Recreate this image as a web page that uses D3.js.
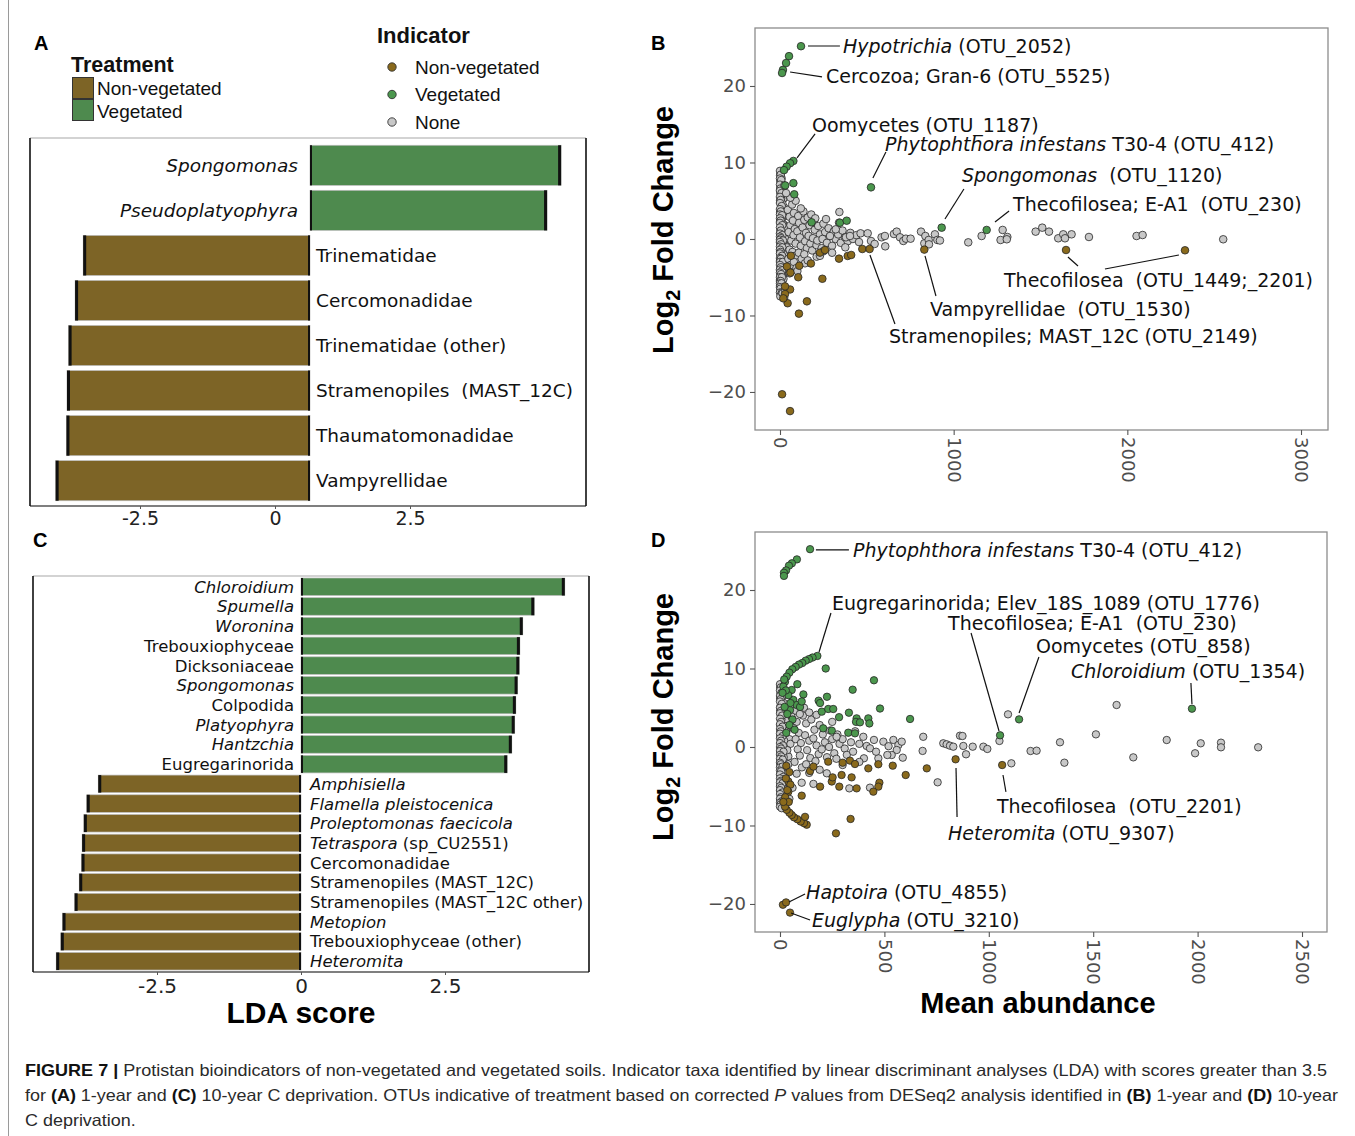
<!DOCTYPE html>
<html><head><meta charset="utf-8">
<script src="https://cdn.jsdelivr.net/npm/d3@7"></script>
<style>
body{margin:0;background:#fff;}
svg{display:block;}
text{white-space:pre;}
</style></head><body>
<svg id="fig" width="1355" height="1136"></svg>
<script>
// ---------------- DATA ----------------
const treatmentLegend = ["Non-vegetated", "Vegetated"];
const indicatorLegend = ["Non-vegetated", "Vegetated", "None"];
const ldaTicks = [-2.5, 0, 2.5];

// Panel A (1-year LDA)
const aTaxa = ["Spongomonas","Pseudoplatyophyra","Trinematidae","Cercomonadidae","Trinematidae (other)","Stramenopiles  (MAST_12C)","Thaumatomonadidae","Vampyrellidae"];
const aScores = [4.65, 4.39, -4.20, -4.35, -4.47, -4.50, -4.51, -4.71];
const aItalic = ["Spongomonas","Pseudoplatyophyra","","","","","",""];

// Panel C (10-year LDA)
const cTaxa = ["Chloroidium","Spumella","Woronina","Trebouxiophyceae","Dicksoniaceae","Spongomonas","Colpodida","Platyophyra","Hantzchia","Eugregarinorida","Amphisiella","Flamella pleistocenica","Proleptomonas faecicola","Tetraspora (sp_CU2551)","Cercomonadidae","Stramenopiles (MAST_12C)","Stramenopiles (MAST_12C other)","Metopion","Trebouxiophyceae (other)","Heteromita"];
const cScores = [4.58, 4.05, 3.85, 3.80, 3.79, 3.76, 3.73, 3.71, 3.66, 3.58, -3.52, -3.72, -3.77, -3.80, -3.81, -3.85, -3.93, -4.14, -4.17, -4.25];
const cItalic = ["Chloroidium","Spumella","Woronina","","","Spongomonas","","Platyophyra","Hantzchia","","Amphisiella","Flamella pleistocenica","Proleptomonas faecicola","Tetraspora","","","","Metopion","","Heteromita"];

// Panel B (1-year DESeq2): [mean abundance, log2 fold change]
const bTicksX = [0, 1000, 2000, 3000];
const bTicksY = [-20, -10, 0, 10, 20];
const bGreen = [[121,25.2],[52,23.9],[35,23.0],[17,22.1],[12,21.7],[77,10.2],[58,9.9],[38,9.45],[23,9.0],[77,7.3],[82,5.84],[30,7.0],[524,6.75],[931,1.48],[1190,1.18],[182,2.18],[345,2.13],[384,2.39]];
const bBrown = [[63,-2.2],[111,-3.5],[178,-3.2],[105,-5.0],[244,-5.2],[58,-6.6],[29,-7.2],[44,-8.4],[155,-8.15],[109,-9.76],[230,-1.79],[259,-1.44],[340,-2.57],[390,-2.22],[410,-2.09],[474,-1.31],[516,-1.31],[831,-1.39],[1647,-1.44],[2332,-1.48],[12,-20.3],[58,-22.5],[19,-7.76],[29,-6.2],[40,-3.6],[60,-4.4]];
const bGrey = [
 [3,8.6],[6,8.1],[2,7.6],[10,7.2],[4,6.8],[14,6.4],[2,6.0],[8,5.6],[18,5.2],[3,4.8],[12,4.4],[24,4.1],[5,3.7],[16,3.3],[28,3.0],[2,2.6],[9,2.2],[20,1.9],[35,1.6],[4,1.2],[13,0.9],[26,0.6],[40,0.3],[3,0.0],[11,-0.3],[22,-0.6],[33,-0.9],[5,-1.2],[15,-1.5],[27,-1.8],[2,-2.1],[9,-2.4],[19,-2.7],[4,-3.0],[14,-3.3],[25,-3.6],[3,-3.9],[10,-4.2],[18,-4.5],[2,-4.8],[8,-5.1],[15,-5.4],[4,-5.7],[11,-6.0],[6,-6.3],[14,-6.6],[9,-6.9],[18,-7.3],[24,-7.7],
 [1,8.3],[9,7.9],[5,7.4],[1,6.5],[11,6.2],[6,5.3],[1,5.0],[14,4.6],[7,4.0],[1,3.5],[21,3.4],[11,2.8],[1,2.3],[16,2.0],[7,1.5],[30,1.3],[1,0.8],[19,0.4],[8,0.2],[30,0.0],[1,-0.5],[16,-0.8],[7,-1.0],[40,-1.1],[1,-1.6],[21,-2.0],[12,-2.3],[1,-2.8],[30,-3.1],[7,-3.5],[1,-4.1],[22,-4.0],[12,-4.7],[1,-5.3],[20,-5.2],[7,-5.9],[1,-6.1],[12,-6.4],[3,-6.8],
 [0,8.9],[4,8.4],[0,7.9],[7,7.7],[0,7.1],[3,6.6],[0,6.3],[9,6.0],[0,5.5],[4,5.1],[0,4.7],[10,4.3],[0,3.9],[5,3.6],[0,3.2],[12,3.1],[0,2.7],[4,2.4],[0,2.1],[13,1.8],[0,1.5],[5,1.1],[0,0.7],[14,0.5],[0,0.3],[5,0.1],[0,-0.1],[17,-0.2],[0,-0.4],[6,-0.7],[0,-1.0],[13,-1.1],[0,-1.4],[4,-1.7],[0,-1.9],[12,-2.2],[0,-2.5],[5,-2.6],[0,-3.0],[16,-3.0],[0,-3.4],[5,-3.7],[0,-4.0],[13,-4.1],[0,-4.4],[6,-4.6],[0,-5.0],[11,-5.0],[0,-5.5],[4,-5.5],[0,-5.8],[9,-5.8],[0,-6.3],[3,-6.5],[0,-7.0],[8,-7.2],[2,-7.5],[12,-7.0],
 [45,3.8],[55,2.9],[60,1.8],[50,0.9],[65,-0.2],[55,-1.4],[48,-2.6],[62,-3.4],[52,-4.3],[70,4.5],[80,3.4],[75,2.4],[85,1.3],[78,0.5],[90,-0.6],[72,-1.7],[88,-2.2],[80,-3.0],[95,-3.8],[105,3.0],[110,2.1],[100,1.0],[115,0.2],[120,-0.9],[108,-1.8],[125,-2.6],[135,3.6],[140,2.5],[130,1.5],[150,0.8],[145,-0.3],[155,-1.2],[140,-2.0],[160,2.8],[170,1.8],[165,0.4],[175,-0.6],[185,-1.5],[180,3.2],[195,2.4],[200,1.2],[190,0.1],[210,-0.8],[220,1.7],[230,0.6],[215,-0.2],[240,-1.2],[250,2.0],[260,0.9],[245,0.0],[270,-0.5],[280,1.4],[290,0.4],[300,-0.9],[310,1.0],[320,0.0],[335,0.6],[350,-0.5],[360,1.1],[375,0.2],[390,-0.3],[405,0.8],[420,0.0],[440,0.5],[455,-0.4],
 [342,3.53],[203,2.7],[340,2.13],[464,0.74],[505,0.74],[524,-0.26],[545,-0.65],[585,0.22],[604,0.39],[606,-0.96],[656,0.65],[672,0.96],[691,0.22],[710,-0.26],[725,0.04],[752,0.04],[812,0.96],[837,0.39],[831,-0.57],[856,-0.13],[858,-0.7],[892,0.61],[906,-0.13],[380,0.22],[403,0.39],[376,-1.09],[321,1.26],[288,0.39],[211,-2.31],[144,-3.18],[56,-4.49],[15,-7.1],[30,-6.7],[100,-4.2],[160,-2.8],[250,-1.6],[230,-2.2],[300,-1.8],[265,2.6],[120,4.0],[90,5.0],[60,5.4],[35,6.0],[25,7.0],
 [921,-0.2],[1084,-0.44],[1161,0.39],[1282,1.18],[1270,-0.13],[1309,0.26],[1306,-0.04],[1472,0.96],[1510,1.48],[1549,0.96],[1602,0.09],[1631,0.61],[1641,0.09],[1679,0.61],[1779,0.26],[2053,0.39],[2088,0.52],[2552,-0.04]
];

// Panel D (10-year DESeq2)
const dTicksX = [0, 500, 1000, 1500, 2000, 2500];
const dTicksY = [-20, -10, 0, 10, 20];
const dGreen = [[144,25.2],[81,23.9],[57,23.4],[43,23.1],[29,22.5],[19,22.2],[19,21.8],
 [179,11.6],[156,11.4],[139,11.2],[123,11.0],[107,10.7],[91,10.5],[75,10.2],[59,9.9],[45,9.47],[32,8.96],[24,8.3],[16,7.7],
 [219,10.0],[450,8.5],[348,7.3],[83,8.0],[112,6.7],[225,6.4],[185,5.9],[192,5.6],[200,4.5],[231,4.84],[255,4.84],[330,4.37],[283,3.8],[367,3.65],[364,3.2],[383,3.14],[423,3.65],[428,3.0],[479,4.9],[623,3.57],[327,1.82],[359,1.74],[248,2.08],[207,2.38],[56,7.26],[64,6.0],[80,5.35],[96,5.1],[104,5.8],[48,4.7],
 [40,6.6],[50,5.6],[35,4.2],[60,3.5],[45,2.8],[70,2.2],[30,1.8],[20,8.6],[28,7.2],[12,6.9],[22,5.1],
 [1054,1.49],[1145,3.52],[1973,4.88]];
const dBrown = [[128,-9.9],[115,-9.7],[99,-9.5],[83,-9.2],[67,-8.96],[56,-8.66],[45,-8.37],[32,-8.0],[24,-7.6],[120,-8.9],
 [268,-11.0],[338,-9.17],[104,-6.2],[40,-5.7],[40,-4.4],[144,-3.06],[160,-2.5],[192,-5.05],[248,-4.4],[252,-3.87],[284,-5.05],[231,-1.87],[300,-2.0],[335,-1.74],[359,-2.17],[295,-3.57],[343,-3.87],[367,-5.27],[423,-2.72],[471,-2.2],[476,-4.55],[471,-5.05],[447,-5.69],[540,-2.38],[602,-3.57],[703,-2.72],[841,-1.57],[1064,-2.3],
 [30,-2.4],[45,-3.2],[28,-4.0],[50,-4.8],[35,-5.5],[25,-6.4],[42,-7.0],[16,-7.0],
 [14,-20.1],[29,-19.8],[48,-21.1]];
const dGrey = [
 [2,7.8],[6,7.3],[2,6.8],[12,6.4],[4,6.0],[18,5.6],[2,5.2],[9,4.8],[24,4.5],[3,4.1],[14,3.7],[30,3.4],[5,3.0],[20,2.7],[38,2.4],[2,2.0],[10,1.6],[26,1.3],[45,1.0],[4,0.6],[15,0.3],[32,0.0],[3,-0.3],[12,-0.6],[24,-0.9],[40,-1.2],[5,-1.5],[16,-1.8],[30,-2.1],[2,-2.4],[10,-2.7],[22,-3.0],[4,-3.3],[14,-3.6],[28,-3.9],[3,-4.2],[10,-4.5],[20,-4.8],[2,-5.1],[8,-5.4],[16,-5.7],[4,-6.0],[11,-6.3],[6,-6.6],[14,-6.9],[9,-7.2],[20,-7.5],
 [1,7.5],[9,7.0],[1,6.2],[7,5.4],[1,4.6],[16,4.2],[7,3.5],[1,2.8],[14,2.3],[30,2.0],[1,1.4],[20,0.8],[8,0.1],[50,0.4],[1,-0.8],[35,-0.4],[18,-1.3],[1,-1.9],[40,-2.2],[8,-2.9],[1,-3.5],[22,-3.4],[8,-4.0],[1,-4.8],[14,-5.0],[1,-5.6],[24,-5.4],[6,-6.2],[1,-6.8],[16,-6.5],[4,-7.6],
 [0,8.0],[4,7.6],[0,7.2],[7,6.9],[0,6.5],[3,6.1],[0,5.8],[9,5.5],[0,5.0],[4,4.6],[0,4.3],[10,4.0],[0,3.6],[5,3.2],[0,2.9],[12,2.6],[0,2.3],[4,2.0],[0,1.7],[13,1.4],[0,1.1],[5,0.8],[0,0.5],[14,0.2],[0,0.0],[5,-0.2],[0,-0.5],[17,-0.6],[0,-1.0],[6,-1.2],[0,-1.5],[13,-1.6],[0,-2.0],[4,-2.2],[0,-2.6],[12,-2.5],[0,-3.0],[5,-3.1],[0,-3.5],[16,-3.8],[0,-4.0],[5,-4.3],[0,-4.5],[13,-4.6],[0,-5.0],[6,-5.2],[0,-5.5],[11,-5.8],[0,-6.0],[4,-6.4],[0,-6.6],[9,-6.9],[0,-7.1],[3,-7.3],[0,-7.6],[8,-7.8],
 [60,5.8],[70,4.6],[55,3.9],[80,3.2],[65,2.4],[90,1.8],[75,1.0],[100,0.5],[85,-0.3],[95,-1.1],[70,-1.9],[105,-2.6],[80,-3.4],[110,4.0],[125,3.0],[120,1.5],[140,0.8],[130,-0.4],[145,-1.4],[125,-2.2],[150,3.5],[165,2.2],[160,1.1],[175,0.2],[185,-0.9],[170,-1.8],[190,2.8],[205,1.6],[215,0.6],[200,-0.3],[225,-1.3],[240,2.1],[250,1.0],[235,0.0],[260,-0.8],[275,1.6],[285,0.4],[270,-1.5],[300,1.0],[310,-0.2],[320,-1.0],[340,0.6],[350,-0.6],
 [271,1.3],[399,1.3],[415,0.13],[431,-0.17],[495,0.68],[543,0.9],[567,0.25],[583,0.68],[588,-1.36],[559,-0.38],[535,-1.02],[514,-1.02],[471,-1.44],[402,-1.44],[686,1.3],[683,-0.5],[755,-4.5],[332,-5.27],[160,-4.7],[104,-4.55],[224,-3.35],[190,-2.9],[300,-2.3],[360,2.0],[380,0.4],[450,0.9],[460,-0.6],[520,0.1],[115,5.0],[95,4.2],[140,4.4],[175,4.1],[250,3.2],[45,-6.6],[60,-5.2],[140,-3.3],[380,-1.9],[431,-5.18],
 [782,0.47],[798,0.34],[814,0.17],[830,0.04],[862,1.44],[874,1.4],[878,0.13],[891,-0.93],[923,0.04],[974,0.04],[993,-0.25],[1051,0.77],[1092,4.16],[1108,-2.08],[1200,-0.51],[1229,-0.47],[1341,0.6],[1362,-2.0],[1513,1.61],[1612,5.35],[1692,-1.32],[1852,0.89],[1988,-0.8],[2015,0.47],[2112,0.55],[2112,-0.04],[2290,-0.04]
];

// Annotations: text parts [string, italic], anchor [x,y] and leader segments, in data units
const bNotes = [
 {parts:[["Hypotrichia",1],[" (OTU_2052)",0]], at:[363,25.23], seg:[[161,25.23,345,25.23]]},
 {parts:[["Cercozoa; Gran-6 (OTU_5525)",0]], at:[265,21.31], seg:[[58,21.83,242,21.18]]},
 {parts:[["Oomycetes (OTU_1187)",0]], at:[184,14.9], seg:[[98,10.59,202,13.73]]},
 {parts:[["Phytophthora infestans",1],[" T30-4 (OTU_412)",0]], at:[605,12.42], seg:[[535,7.97,610,11.37]]},
 {parts:[["Spongomonas",1],["  (OTU_1120)",0]], at:[1048,8.37], seg:[[950,2.61,1059,6.54]]},
 {parts:[["Thecofilosea; E-A1  (OTU_230)",0]], at:[1342,4.58], seg:[[1238,2.22,1319,3.66]]},
 {parts:[["Thecofilosea  (OTU_1449;_2201)",0]], at:[1290,-5.36], seg:[[1658,-2.35,1716,-3.53],[1871,-3.92,2297,-2.09]]},
 {parts:[["Vampyrellidae  (OTU_1530)",0]], at:[864,-9.15], seg:[[835,-2.22,898,-7.45]]},
 {parts:[["Stramenopiles; MAST_12C (OTU_2149)",0]], at:[628,-12.68], seg:[[518,-2.09,662,-11.11]]}
];
const dNotes = [
 {parts:[["Phytophthora infestans",1],[" T30-4 (OTU_412)",0]], at:[350,25.1], seg:[[172,25.1,330,25.1]]},
 {parts:[["Eugregarinorida; Elev_18S_1089 (OTU_1776)",0]], at:[249,18.34], seg:[[187,12.1,244,17.07]]},
 {parts:[["Thecofilosea; E-A1  (OTU_230)",0]], at:[805,15.8], seg:[[915,14.52,1049,2.04]]},
 {parts:[["Oomycetes (OTU_858)",0]], at:[1226,12.87], seg:[[1145,4.33,1240,11.46]]},
 {parts:[["Chloroidium",1],[" (OTU_1354)",0]], at:[1394,9.68], seg:[[1968,8.15,1973,5.48]]},
 {parts:[["Thecofilosea  (OTU_2201)",0]], at:[1039,-7.52], seg:[[1068,-3.57,1082,-5.73]]},
 {parts:[["Heteromita",1],[" (OTU_9307)",0]], at:[805,-10.96], seg:[[843,-2.68,848,-8.92]]},
 {parts:[["Haptoira",1],[" (OTU_4855)",0]], at:[125,-18.47], seg:[[43,-19.75,120,-18.73]]},
 {parts:[["Euglypha",1],[" (OTU_3210)",0]], at:[153,-22.04], seg:[[53,-21.15,144,-22.04]]}
];

// ---------------- STYLE ----------------
const GREEN_BAR = "#4e8a4e", BROWN_BAR = "#7d6426";
const GREEN_PT = "#4b974d", BROWN_PT = "#8a6a1c", GREY_PT = "#c8c8c8";
const DV = "'DejaVu Sans', Verdana, sans-serif";
const AR = "'Liberation Sans', Arial, Helvetica, sans-serif";

const fig = d3.select("#fig");
fig.append("rect").attr("width",1355).attr("height",1136).attr("fill","#fff");
fig.append("line").attr("x1",8.5).attr("x2",8.5).attr("y1",0).attr("y2",1136).attr("stroke","#9a9a9a").attr("stroke-width",1);

// panel letters
[["A",34,50],["B",651,50],["C",33,547],["D",651,547]].forEach(([t,x,y])=>{
  fig.append("text").attr("x",x).attr("y",y).attr("font-family",AR).attr("font-weight","bold").attr("font-size",20).attr("fill","#000").text(t);
});

// ---------- Legends ----------
const lg = fig.append("g").attr("font-family",AR).attr("fill","#111");
lg.append("text").attr("x",71).attr("y",72).attr("font-weight","bold").attr("font-size",21.5).text("Treatment");
treatmentLegend.forEach((t,i)=>{
  lg.append("rect").attr("x",72.5).attr("y",77.5+i*22).attr("width",21).attr("height",21)
    .attr("fill", i===0?BROWN_BAR:GREEN_BAR).attr("stroke","#333").attr("stroke-width",1);
  lg.append("text").attr("x",97).attr("y",88+i*23).attr("dy","0.35em").attr("font-size",19).text(t);
});
lg.append("text").attr("x",377).attr("y",43).attr("font-weight","bold").attr("font-size",22).text("Indicator");
indicatorLegend.forEach((t,i)=>{
  lg.append("circle").attr("cx",392).attr("cy",67+i*27.5).attr("r",4.2)
    .attr("fill",[BROWN_PT,GREEN_PT,GREY_PT][i]).attr("stroke","#333").attr("stroke-width",0.9);
  lg.append("text").attr("x",415).attr("y",67+i*27.5).attr("dy","0.35em").attr("font-size",19).text(t);
});

// ---------- Bar panels ----------
function barPanel(o){
  const g = fig.append("g");
  const y = d3.scaleBand().domain(o.taxa).range(o.band).paddingInner(0.11).paddingOuter(0.05);
  const x = o.x, x0 = x(0);
  const rows = o.taxa.map((t,i)=>({t, v:o.scores[i], it:o.italic[i]}));
  g.selectAll("rect.bar").data(rows).join("rect").attr("class","bar")
    .attr("x", d=>x(Math.min(0,d.v))).attr("width", d=>Math.abs(x(d.v)-x0))
    .attr("y", d=>y(d.t)).attr("height", y.bandwidth())
    .attr("fill", d=>d.v>0?GREEN_BAR:BROWN_BAR).attr("stroke","#bdbdbd").attr("stroke-width",0.7);
  g.selectAll("rect.cap").data(rows).join("rect").attr("class","cap")
    .attr("x", d=> d.v>0 ? x(d.v)-3 : x(d.v)).attr("width",3)
    .attr("y", d=>y(d.t)).attr("height", y.bandwidth()).attr("fill","#111");
  g.selectAll("rect.base").data(rows).join("rect").attr("class","base")
    .attr("x", d=> d.v>0 ? x0 : x0-2).attr("width",2)
    .attr("y", d=>y(d.t)).attr("height", y.bandwidth()).attr("fill","#111");
  const lab = g.selectAll("text.lab").data(rows).join("text").attr("class","lab")
    .attr("x", d=> d.v>0 ? x0-o.gapPos : x0+o.gapNeg)
    .attr("y", d=> y(d.t)+y.bandwidth()/2).attr("dy","0.36em")
    .attr("text-anchor", d=> d.v>0 ? "end":"start")
    .attr("font-family",DV).attr("font-size",o.fs).attr("fill","#111");
  lab.each(function(d){
    const el = d3.select(this);
    if(d.it){
      el.append("tspan").attr("font-style","italic").text(d.it);
      const rest = d.t.slice(d.it.length);
      if(rest) el.append("tspan").text(rest);
    } else el.text(d.t);
  });
  const f = o.frame;
  g.append("line").attr("x1",f.l).attr("x2",f.r).attr("y1",f.t).attr("y2",f.t).attr("stroke","#c4c4c4").attr("stroke-width",1.5);
  g.append("line").attr("x1",f.l).attr("x2",f.r).attr("y1",f.b).attr("y2",f.b).attr("stroke","#555").attr("stroke-width",1.3);
  g.append("line").attr("x1",f.l).attr("x2",f.l).attr("y1",f.t).attr("y2",f.b).attr("stroke","#111").attr("stroke-width",1.6);
  g.append("line").attr("x1",f.r).attr("x2",f.r).attr("y1",f.t).attr("y2",f.b).attr("stroke","#111").attr("stroke-width",1.6);
  const ax = g.append("g").attr("transform",`translate(${o.axisShift},${f.b})`)
    .call(d3.axisBottom(x).tickValues(ldaTicks).tickSize(3).tickPadding(o.tickPad)
      .tickFormat(d=> d===0 ? "0" : (d<0?"-":"")+Math.abs(d).toFixed(1)));
  ax.select(".domain").remove();
  ax.selectAll(".tick line").attr("stroke","#555");
  ax.selectAll("text").attr("font-family",DV).attr("font-size",o.tickFs).attr("fill","#222");
  return g;
}

barPanel({taxa:aTaxa, scores:aScores, italic:aItalic,
  x: d3.scaleLinear().domain([-5.185,5.111]).range([30,586]),
  band:[143,503], frame:{l:30,r:586,t:138,b:506}, axisShift:-35, fs:18.5, gapPos:12, gapNeg:6, tickFs:19, tickPad:3});
barPanel({taxa:cTaxa, scores:cScores, italic:cItalic,
  x: d3.scaleLinear().domain([-4.653,5.0]).range([33,589]),
  band:[577,971], frame:{l:33,r:589,t:576,b:972}, axisShift:0, fs:16.5, gapPos:7, gapNeg:9, tickFs:20, tickPad:4});

fig.append("text").attr("x",301).attr("y",1023).attr("text-anchor","middle").attr("font-family",AR)
  .attr("font-weight","bold").attr("font-size",30).attr("fill","#000").text("LDA score");

// ---------- Scatter panels ----------
function scatterPanel(o){
  const g = fig.append("g");
  const x = o.x, y = o.y;
  const [x0,x1] = x.range(), [y0,y1] = y.range();
  g.append("rect").attr("x",x0).attr("y",y1).attr("width",x1-x0).attr("height",y0-y1)
    .attr("fill","#fff").attr("stroke","#8c8c8c").attr("stroke-width",1.3);
  const pts = [...o.grey.map(p=>[p,GREY_PT]), ...o.brown.map(p=>[p,BROWN_PT]), ...o.green.map(p=>[p,GREEN_PT])];
  g.selectAll("circle").data(pts).join("circle")
    .attr("cx", d=>x(d[0][0])).attr("cy", d=>y(d[0][1])).attr("r",o.r)
    .attr("fill", d=>d[1]).attr("stroke","#262626").attr("stroke-width",0.8);
  const ya = g.append("g").attr("transform",`translate(${x0},0)`)
    .call(d3.axisLeft(y).tickValues(o.ticksY).tickSize(5).tickPadding(4).tickFormat(d=> d<0 ? "\u2212"+Math.abs(d) : ""+d));
  ya.select(".domain").remove();
  ya.selectAll(".tick line").attr("stroke","#555").attr("stroke-width",1.1);
  ya.selectAll("text").attr("font-family",DV).attr("font-size",18).attr("fill","#4d4d4d");
  const xa = g.append("g").attr("transform",`translate(0,${y0})`)
    .call(d3.axisBottom(x).tickValues(o.ticksX).tickSize(5).tickFormat(d3.format("d")));
  xa.select(".domain").remove();
  xa.selectAll(".tick line").attr("stroke","#555").attr("stroke-width",1.1);
  xa.selectAll("text").attr("font-family",DV).attr("font-size",18).attr("fill","#4d4d4d")
    .attr("x",7).attr("y",0).attr("dy","0.35em").attr("transform","rotate(90)").attr("text-anchor","start");
  // annotations
  o.notes.forEach(n=>{
    n.seg.forEach(s=>{
      g.append("line").attr("x1",x(s[0])).attr("y1",y(s[1])).attr("x2",x(s[2])).attr("y2",y(s[3]))
        .attr("stroke","#111").attr("stroke-width",1.2);
    });
    const t = g.append("text").attr("x",x(n.at[0])).attr("y",y(n.at[1])).attr("dy","0.36em")
      .attr("font-family",DV).attr("font-size",19).attr("fill","#111");
    n.parts.forEach(p=>{ const ts = t.append("tspan").text(p[0]); if(p[1]) ts.attr("font-style","italic"); });
  });
  // y title
  const yt = g.append("text").attr("transform",`translate(673,${o.titleY}) rotate(-90)`).attr("text-anchor","middle")
    .attr("font-family",AR).attr("font-weight","bold").attr("font-size",29).attr("fill","#000");
  yt.append("tspan").text("Log");
  yt.append("tspan").attr("font-size",20).attr("dy",7).text("2");
  yt.append("tspan").attr("dy",-7).text(" Fold Change");
  return g;
}

scatterPanel({
  x: d3.scaleLinear().domain([-143.9,3155.4]).range([755,1328]),
  y: d3.scaleLinear().domain([-24.97,27.58]).range([430,28]),
  grey:bGrey, brown:bBrown, green:bGreen, ticksX:bTicksX, ticksY:bTicksY, notes:bNotes, r:3.8, titleY:230});
scatterPanel({
  x: d3.scaleLinear().domain([-119.7,2619.7]).range([755,1327]),
  y: d3.scaleLinear().domain([-23.57,27.39]).range([932,532]),
  grey:dGrey, brown:dBrown, green:dGreen, ticksX:dTicksX, ticksY:dTicksY, notes:dNotes, r:3.7, titleY:717});

fig.append("text").attr("x",1038).attr("y",1013).attr("text-anchor","middle").attr("font-family",AR)
  .attr("font-weight","bold").attr("font-size",29).attr("fill","#000").text("Mean abundance");

// ---------- Caption ----------
const capLines = [
  {y:1076, w:1302, parts:[["FIGURE 7 |","b"],[" Protistan bioindicators of non-vegetated and vegetated soils. Indicator taxa identified by linear discriminant analyses (LDA) with scores greater than 3.5",""]]},
  {y:1101, w:1313, parts:[["for ",""],["(A)","b"],[" 1-year and ",""],["(C)","b"],[" 10-year C deprivation. OTUs indicative of treatment based on corrected ",""],["P","i"],[" values from DESeq2 analysis identified in ",""],["(B)","b"],[" 1-year and ",""],["(D)","b"],[" 10-year",""]]},
  {y:1126, w:null, parts:[["C deprivation.",""]]}
];
let scaleX = 1;
capLines.forEach((L,li)=>{
  const t = fig.append("text").attr("x",25).attr("y",L.y).attr("font-family",AR).attr("font-size",16.5).attr("fill","#2a2a2a");
  L.parts.forEach(p=>{
    const ts = t.append("tspan").text(p[0]);
    if(p[1]==="b") ts.attr("font-weight","bold").attr("fill","#111");
    if(p[1]==="i") ts.attr("font-style","italic");
  });
  const nat = t.node().getComputedTextLength();
  if(L.w){ scaleX = L.w/nat; t.attr("textLength",L.w).attr("lengthAdjust","spacingAndGlyphs"); }
  else { t.attr("textLength",nat*scaleX).attr("lengthAdjust","spacingAndGlyphs"); }
});
</script>
</body></html>
